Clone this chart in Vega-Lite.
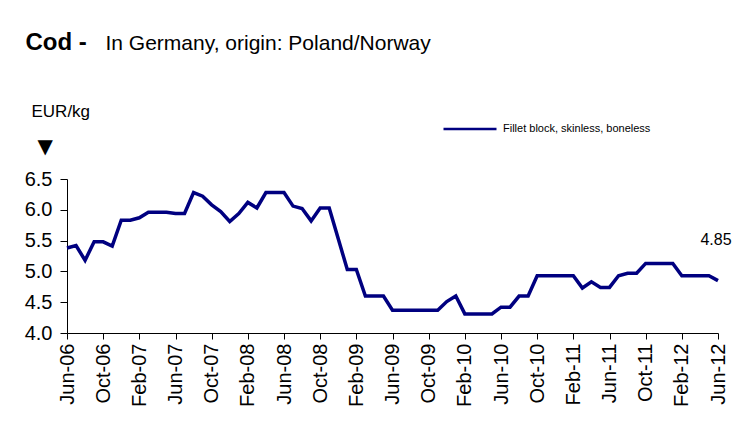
{
  "$schema": "https://vega.github.io/schema/vega-lite/v6.json",
  "autosize": "none",
  "width": 651,
  "height": 154,
  "padding": {"left": 67, "top": 179, "right": 21, "bottom": 108},
  "background": "white",
  "config": {
    "view": {"stroke": null},
    "font": "Liberation Sans",
    "axis": {"grid": false, "domainColor": "black", "tickColor": "black", "labelColor": "black", "titleColor": "black", "labelFont": "Liberation Sans", "titleFont": "Liberation Sans"}
  },
  "data": {
    "values": [
      {"month": "Jun-06", "price": 5.38, "series": "Fillet block, skinless,  boneless"},
      {"month": "Jul-06", "price": 5.42, "series": "Fillet block, skinless,  boneless"},
      {"month": "Aug-06", "price": 5.18, "series": "Fillet block, skinless,  boneless"},
      {"month": "Sep-06", "price": 5.48, "series": "Fillet block, skinless,  boneless"},
      {"month": "Oct-06", "price": 5.48, "series": "Fillet block, skinless,  boneless"},
      {"month": "Nov-06", "price": 5.41, "series": "Fillet block, skinless,  boneless"},
      {"month": "Dec-06", "price": 5.83, "series": "Fillet block, skinless,  boneless"},
      {"month": "Jan-07", "price": 5.83, "series": "Fillet block, skinless,  boneless"},
      {"month": "Feb-07", "price": 5.87, "series": "Fillet block, skinless,  boneless"},
      {"month": "Mar-07", "price": 5.96, "series": "Fillet block, skinless,  boneless"},
      {"month": "Apr-07", "price": 5.96, "series": "Fillet block, skinless,  boneless"},
      {"month": "May-07", "price": 5.96, "series": "Fillet block, skinless,  boneless"},
      {"month": "Jun-07", "price": 5.94, "series": "Fillet block, skinless,  boneless"},
      {"month": "Jul-07", "price": 5.94, "series": "Fillet block, skinless,  boneless"},
      {"month": "Aug-07", "price": 6.28, "series": "Fillet block, skinless,  boneless"},
      {"month": "Sep-07", "price": 6.22, "series": "Fillet block, skinless,  boneless"},
      {"month": "Oct-07", "price": 6.08, "series": "Fillet block, skinless,  boneless"},
      {"month": "Nov-07", "price": 5.97, "series": "Fillet block, skinless,  boneless"},
      {"month": "Dec-07", "price": 5.81, "series": "Fillet block, skinless,  boneless"},
      {"month": "Jan-08", "price": 5.94, "series": "Fillet block, skinless,  boneless"},
      {"month": "Feb-08", "price": 6.12, "series": "Fillet block, skinless,  boneless"},
      {"month": "Mar-08", "price": 6.03, "series": "Fillet block, skinless,  boneless"},
      {"month": "Apr-08", "price": 6.28, "series": "Fillet block, skinless,  boneless"},
      {"month": "May-08", "price": 6.28, "series": "Fillet block, skinless,  boneless"},
      {"month": "Jun-08", "price": 6.28, "series": "Fillet block, skinless,  boneless"},
      {"month": "Jul-08", "price": 6.06, "series": "Fillet block, skinless,  boneless"},
      {"month": "Aug-08", "price": 6.02, "series": "Fillet block, skinless,  boneless"},
      {"month": "Sep-08", "price": 5.82, "series": "Fillet block, skinless,  boneless"},
      {"month": "Oct-08", "price": 6.03, "series": "Fillet block, skinless,  boneless"},
      {"month": "Nov-08", "price": 6.03, "series": "Fillet block, skinless,  boneless"},
      {"month": "Dec-08", "price": 5.53, "series": "Fillet block, skinless,  boneless"},
      {"month": "Jan-09", "price": 5.03, "series": "Fillet block, skinless,  boneless"},
      {"month": "Feb-09", "price": 5.03, "series": "Fillet block, skinless,  boneless"},
      {"month": "Mar-09", "price": 4.6, "series": "Fillet block, skinless,  boneless"},
      {"month": "Apr-09", "price": 4.6, "series": "Fillet block, skinless,  boneless"},
      {"month": "May-09", "price": 4.6, "series": "Fillet block, skinless,  boneless"},
      {"month": "Jun-09", "price": 4.37, "series": "Fillet block, skinless,  boneless"},
      {"month": "Jul-09", "price": 4.37, "series": "Fillet block, skinless,  boneless"},
      {"month": "Aug-09", "price": 4.37, "series": "Fillet block, skinless,  boneless"},
      {"month": "Sep-09", "price": 4.37, "series": "Fillet block, skinless,  boneless"},
      {"month": "Oct-09", "price": 4.37, "series": "Fillet block, skinless,  boneless"},
      {"month": "Nov-09", "price": 4.37, "series": "Fillet block, skinless,  boneless"},
      {"month": "Dec-09", "price": 4.51, "series": "Fillet block, skinless,  boneless"},
      {"month": "Jan-10", "price": 4.6, "series": "Fillet block, skinless,  boneless"},
      {"month": "Feb-10", "price": 4.31, "series": "Fillet block, skinless,  boneless"},
      {"month": "Mar-10", "price": 4.31, "series": "Fillet block, skinless,  boneless"},
      {"month": "Apr-10", "price": 4.31, "series": "Fillet block, skinless,  boneless"},
      {"month": "May-10", "price": 4.31, "series": "Fillet block, skinless,  boneless"},
      {"month": "Jun-10", "price": 4.42, "series": "Fillet block, skinless,  boneless"},
      {"month": "Jul-10", "price": 4.42, "series": "Fillet block, skinless,  boneless"},
      {"month": "Aug-10", "price": 4.6, "series": "Fillet block, skinless,  boneless"},
      {"month": "Sep-10", "price": 4.6, "series": "Fillet block, skinless,  boneless"},
      {"month": "Oct-10", "price": 4.93, "series": "Fillet block, skinless,  boneless"},
      {"month": "Nov-10", "price": 4.93, "series": "Fillet block, skinless,  boneless"},
      {"month": "Dec-10", "price": 4.93, "series": "Fillet block, skinless,  boneless"},
      {"month": "Jan-11", "price": 4.93, "series": "Fillet block, skinless,  boneless"},
      {"month": "Feb-11", "price": 4.93, "series": "Fillet block, skinless,  boneless"},
      {"month": "Mar-11", "price": 4.73, "series": "Fillet block, skinless,  boneless"},
      {"month": "Apr-11", "price": 4.83, "series": "Fillet block, skinless,  boneless"},
      {"month": "May-11", "price": 4.74, "series": "Fillet block, skinless,  boneless"},
      {"month": "Jun-11", "price": 4.74, "series": "Fillet block, skinless,  boneless"},
      {"month": "Jul-11", "price": 4.93, "series": "Fillet block, skinless,  boneless"},
      {"month": "Aug-11", "price": 4.97, "series": "Fillet block, skinless,  boneless"},
      {"month": "Sep-11", "price": 4.97, "series": "Fillet block, skinless,  boneless"},
      {"month": "Oct-11", "price": 5.13, "series": "Fillet block, skinless,  boneless"},
      {"month": "Nov-11", "price": 5.13, "series": "Fillet block, skinless,  boneless"},
      {"month": "Dec-11", "price": 5.13, "series": "Fillet block, skinless,  boneless"},
      {"month": "Jan-12", "price": 5.13, "series": "Fillet block, skinless,  boneless"},
      {"month": "Feb-12", "price": 4.93, "series": "Fillet block, skinless,  boneless"},
      {"month": "Mar-12", "price": 4.93, "series": "Fillet block, skinless,  boneless"},
      {"month": "Apr-12", "price": 4.93, "series": "Fillet block, skinless,  boneless"},
      {"month": "May-12", "price": 4.93, "series": "Fillet block, skinless,  boneless"},
      {"month": "Jun-12", "price": 4.85, "series": "Fillet block, skinless,  boneless"}
    ]
  },
  "layer": [
    {
      "mark": {"type": "line", "strokeWidth": 3.5, "strokeJoin": "miter"},
      "encoding": {
        "x": {
          "field": "month", "type": "ordinal", "sort": null,
          "scale": {"type": "point", "padding": 0},
          "axis": {
            "orient": "bottom",
            "values": ["Jun-06","Oct-06","Feb-07","Jun-07","Oct-07","Feb-08","Jun-08","Oct-08","Feb-09","Jun-09","Oct-09","Feb-10","Jun-10","Oct-10","Feb-11","Jun-11","Oct-11","Feb-12","Jun-12"],
            "labelAngle": 270, "labelFontSize": 20, "labelPadding": 4, "tickSize": 6, "labelOverlap": false,
            "title": "In Germany, origin: Poland/Norway",
            "titleX": 38, "titleY": -284, "titleAlign": "left", "titleBaseline": "alphabetic",
            "titleFontSize": 21, "titleFontWeight": "normal", "titleAnchor": null
          }
        },
        "y": {
          "field": "price", "type": "quantitative",
          "scale": {"domain": [4, 6.5], "nice": false, "zero": false},
          "axis": {
            "values": [4, 4.5, 5, 5.5, 6, 6.5], "format": ".1f", "labelOverlap": false,
            "labelFontSize": 20, "labelPadding": 8, "tickSize": 7,
            "title": "EUR/kg", "titleAngle": 0, "titleX": -36, "titleY": -63,
            "titleAlign": "left", "titleBaseline": "alphabetic", "titleFontSize": 17,
            "titleFontWeight": "normal"
          }
        },
        "color": {
          "field": "series", "type": "nominal",
          "scale": {"range": ["#000080"]},
          "legend": {
            "orient": "none", "legendX": 375, "legendY": -78, "title": null,
            "symbolType": "stroke", "symbolSize": 2809, "symbolStrokeWidth": 2.5,
            "labelFontSize": 11, "labelOffset": 5, "labelFont": "Liberation Sans", "padding": 0
          }
        }
      }
    },
    {
      "transform": [{"filter": "datum.month == 'Jun-12'"}],
      "mark": {"type": "text", "fontSize": 16, "dy": -41, "dx": -2, "align": "center", "baseline": "middle", "color": "black"},
      "encoding": {
        "x": {
          "field": "month", "type": "ordinal", "sort": null,
          "scale": {"type": "point", "padding": 0},
          "axis": {
            "orient": "top", "domain": false, "ticks": false, "labels": false,
            "title": "Cod -", "titleX": -42, "titleY": -130, "titleAlign": "left",
            "titleBaseline": "alphabetic", "titleFontSize": 24, "titleFontWeight": "bold", "titleAnchor": null
          }
        },
        "y": {
          "field": "price", "type": "quantitative",
          "axis": {
            "orient": "left", "domain": false, "ticks": false, "labels": false,
            "title": "▼", "titleAngle": 0, "titleX": -30, "titleY": -27, "titleAlign": "left",
            "titleBaseline": "alphabetic", "titleFontSize": 20, "titleFontWeight": "normal", "titleFont": "DejaVu Sans", "titleAnchor": null
          }
        },
        "text": {"field": "price", "type": "quantitative", "format": ".2f"}
      }
    }
  ],
  "resolve": {"axis": {"x": "independent", "y": "independent"}}
}
